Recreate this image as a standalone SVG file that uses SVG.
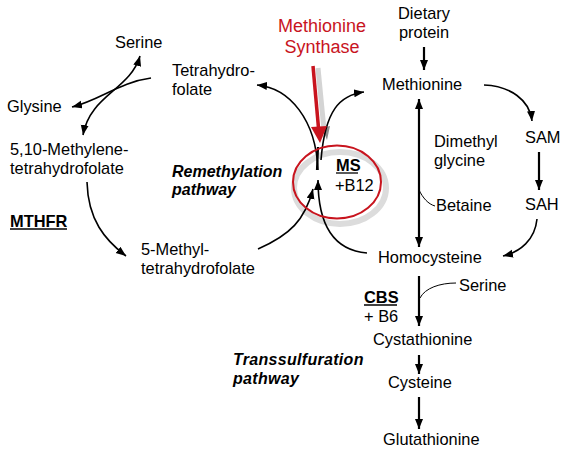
<svg xmlns="http://www.w3.org/2000/svg" width="563" height="462" viewBox="0 0 563 462">
<style>
text{font-family:"Liberation Sans",Arial,sans-serif;font-size:16.4px;fill:#000}
.bi{font-weight:bold;font-style:italic;font-size:16px}
.b{font-weight:bold}
.red{fill:#c8141e;font-size:18px}
.c{fill:none;stroke:#000;stroke-width:1.6}
.t{fill:none;stroke:#000;stroke-width:2.2}
.thin{fill:none;stroke:#000;stroke-width:1}
</style>
<defs>
<marker id="ah" markerUnits="userSpaceOnUse" markerWidth="12" markerHeight="10" refX="10" refY="4" orient="auto-start-reverse" viewBox="0 0 12 10">
<path d="M0,0 L10,4 L0,8 z" fill="#000"/>
</marker>
</defs>
<rect width="563" height="462" fill="#fff"/>

<g id="ms-shadow">
<ellipse cx="340" cy="188" rx="46" ry="36" fill="none" stroke="#dcdcdc" stroke-width="6"/>
<line x1="318" y1="68" x2="324" y2="130" stroke="#d4d4d4" stroke-width="5"/>
<path d="M322,128 L330,126 L327,140 z" fill="#8c8c8c"/>
</g>

<g id="connectors">
<path class="c" d="M151,78 C120,82 100,100 72,107" marker-end="url(#ah)"/>
<path class="c" d="M140,56 C130,90 90,95 83,135" marker-start="url(#ah)" marker-end="url(#ah)"/>
<path class="c" d="M87,182 C88,220 105,240 126,256" marker-end="url(#ah)"/>
<path class="c" d="M258,249 C290,235 305,220 313,189" marker-end="url(#ah)"/>
<path class="c" d="M367,253 C330,250 318,220 318,180" marker-end="url(#ah)"/>
<path class="c" d="M318,170 C316,120 290,88 257,85" marker-end="url(#ah)"/>
<path class="c" d="M321,160 C325,110 340,95 364,92" marker-end="url(#ah)"/>
<path class="t" d="M318,147 L317,170"/>
<path class="t" d="M424,47 L424,70" marker-end="url(#ah)"/>
<path class="c" d="M484,85 C510,86 530,100 532,121" marker-end="url(#ah)"/>
<path class="t" d="M539,152 L539,190" marker-end="url(#ah)"/>
<path class="c" d="M537,219 C535,240 520,252 503,256" marker-end="url(#ah)"/>
<path class="t" d="M419,99 L419,247" marker-start="url(#ah)" marker-end="url(#ah)"/>
<path class="thin" d="M419,190 C423,198 428,204 435,206"/>
<path class="t" d="M419,276 L419,326" marker-end="url(#ah)"/>
<path class="thin" d="M420,298 C425,288 440,283 456,283"/>
<path class="t" d="M419,355 L419,374" marker-end="url(#ah)"/>
<path class="t" d="M419,397 L419,429" marker-end="url(#ah)"/>
</g>

<g id="methionine-synthase">
<text class="red" x="322" y="32" text-anchor="middle">Methionine</text>
<text class="red" x="322" y="53" text-anchor="middle">Synthase</text>
<line x1="313" y1="66" x2="318.5" y2="128" stroke="#c8141e" stroke-width="3.5"/>
<path d="M311,127 L327,126 L320,143 z" fill="#c8141e"/>
</g>

<g id="ms">
<ellipse cx="337" cy="182" rx="44" ry="36.5" fill="none" stroke="#c8141e" stroke-width="2"/>
<text class="b" x="336" y="171">MS</text>
<line x1="336" y1="173" x2="358" y2="173" stroke="#000" stroke-width="1.3"/>
<text x="335" y="191">+B12</text>
</g>

<g id="dietary-protein"><text x="424" y="19" text-anchor="middle">Dietary</text><text x="424" y="38" text-anchor="middle">protein</text></g>
<g id="methionine"><text x="382" y="90">Methionine</text></g>
<g id="sam"><text x="525" y="143">SAM</text></g>
<g id="sah"><text x="525" y="210">SAH</text></g>
<g id="homocysteine"><text x="378" y="263">Homocysteine</text></g>
<g id="dimethylglycine"><text x="434" y="147">Dimethyl</text><text x="434" y="166">glycine</text></g>
<g id="betaine"><text x="436" y="211">Betaine</text></g>

<g id="serine-top"><text x="115" y="48">Serine</text></g>
<g id="tetrahydrofolate"><text x="172" y="76">Tetrahydro-</text><text x="172" y="95">folate</text></g>
<g id="glysine"><text x="7" y="112">Glysine</text></g>
<g id="methylene-thf"><text x="10" y="155">5,10-Methylene-</text><text x="10" y="174">tetrahydrofolate</text></g>
<g id="mthfr"><text class="b" x="10" y="227">MTHFR</text><line x1="10" y1="229" x2="67" y2="229" stroke="#000" stroke-width="1.3"/></g>
<g id="methyl-thf"><text x="141" y="255">5-Methyl-</text><text x="141" y="274">tetrahydrofolate</text></g>
<g id="remethylation"><text class="bi" x="172" y="177">Remethylation</text><text class="bi" x="172" y="195">pathway</text></g>

<g id="serine-bottom"><text x="459" y="291">Serine</text></g>
<g id="cbs"><text class="b" x="364" y="303">CBS</text><line x1="364" y1="305" x2="397" y2="305" stroke="#000" stroke-width="1.3"/><text x="364" y="322">+ B6</text></g>
<g id="cystathionine"><text x="373" y="345">Cystathionine</text></g>
<g id="cysteine"><text x="388" y="388">Cysteine</text></g>
<g id="glutathionine"><text x="383" y="445">Glutathionine</text></g>
<g id="transsulfuration"><text class="bi" x="233" y="365" style="letter-spacing:0.3px">Transsulfuration</text><text class="bi" x="233" y="384" style="letter-spacing:0.3px">pathway</text></g>
</svg>
